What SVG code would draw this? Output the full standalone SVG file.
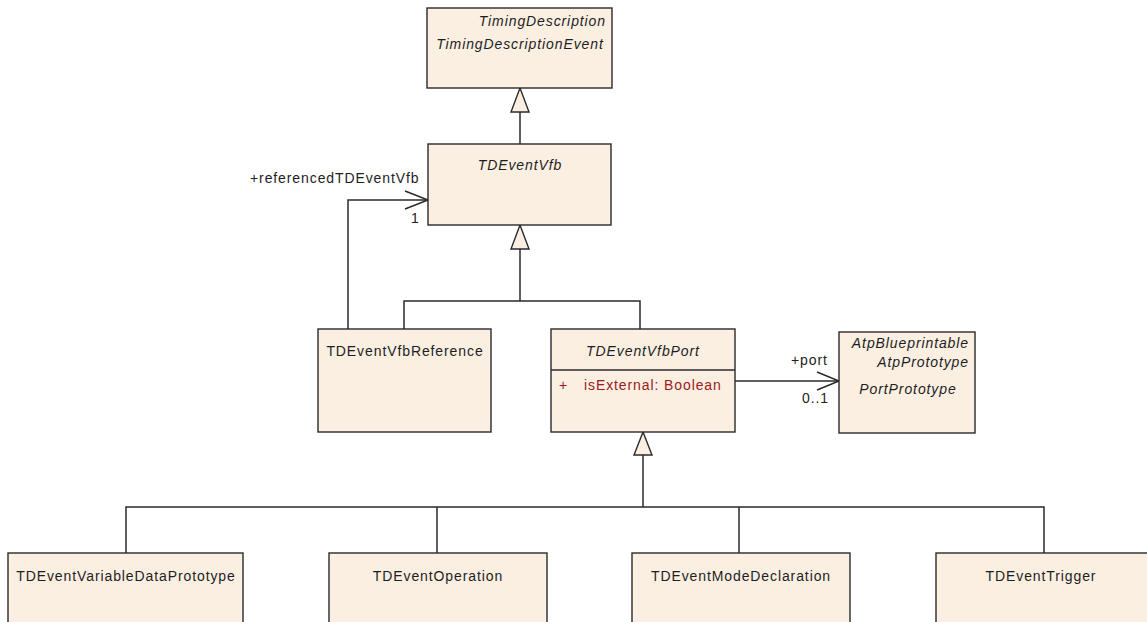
<svg xmlns="http://www.w3.org/2000/svg" width="1147" height="622" viewBox="0 0 1147 622">
<style>
.box{fill:#FBEFE2;stroke:#2a2a2a;stroke-width:1.4}
.ln{fill:none;stroke:#2a2a2a;stroke-width:1.5}
.tri{fill:#FBEFE2;stroke:#2a2a2a;stroke-width:1.4}
text{font-family:"Liberation Sans",Arial,sans-serif;font-size:14px;letter-spacing:0.9px;fill:#1e1e1e}
.it{font-style:italic}
.c{text-anchor:middle}
.e{text-anchor:end}
.attr{fill:#9C1A1A}
</style>
<rect width="1147" height="622" fill="#ffffff"/>
<g id="connectors">
<line class="ln" x1="520" y1="112" x2="520" y2="144"/>
<polygon class="tri" points="520,88 511,112 529,112"/>
<polyline class="ln" points="520,249 520,301"/>
<polyline class="ln" points="404,329 404,301 640,301 640,329"/>
<polygon class="tri" points="520,225 511,249 529,249"/>
<polyline class="ln" points="348,329 348,200 428,200"/>
<polyline class="ln" points="405,191 428,200 405,209"/>
<text x="250" y="183">+referencedTDEventVfb</text>
<text x="411" y="223">1</text>
<line class="ln" x1="735" y1="381" x2="839" y2="381"/>
<polyline class="ln" points="817,372 839,381 817,390"/>
<text x="791" y="365">+port</text>
<text x="802" y="403">0..1</text>
<line class="ln" x1="643" y1="455" x2="643" y2="507"/>
<polyline class="ln" points="126,553 126,507 1044,507 1044,553"/>
<line class="ln" x1="437" y1="507" x2="437" y2="553"/>
<line class="ln" x1="739" y1="507" x2="739" y2="553"/>
<polygon class="tri" points="643,432 634,455 652,455"/>
</g>
<g id="TimingDescriptionEvent">
<rect class="box" x="427" y="8" width="185" height="80"/>
<text class="it e" x="606" y="26">TimingDescription</text>
<text class="it c" x="520" y="49">TimingDescriptionEvent</text>
</g>
<g id="TDEventVfb">
<rect class="box" x="428" y="144" width="183" height="81"/>
<text class="it c" x="520" y="170">TDEventVfb</text>
</g>
<g id="TDEventVfbReference">
<rect class="box" x="318" y="329" width="173" height="103"/>
<text class="c" x="405" y="356">TDEventVfbReference</text>
</g>
<g id="TDEventVfbPort">
<rect class="box" x="551" y="329" width="184" height="103"/>
<text class="it c" x="643" y="356">TDEventVfbPort</text>
<line class="ln" x1="551" y1="370" x2="735" y2="370"/>
<text class="attr" x="559" y="390">+</text>
<text class="attr" x="584" y="390">isExternal: Boolean</text>
</g>
<g id="PortPrototype">
<rect class="box" x="839" y="332" width="136" height="101"/>
<text class="it e" x="969" y="348">AtpBlueprintable</text>
<text class="it e" x="969" y="367">AtpPrototype</text>
<text class="it c" x="908" y="394">PortPrototype</text>
</g>
<g id="TDEventVariableDataPrototype">
<rect class="box" x="8" y="553" width="235" height="80"/>
<text class="c" x="126" y="581">TDEventVariableDataPrototype</text>
</g>
<g id="TDEventOperation">
<rect class="box" x="329" y="553" width="218" height="80"/>
<text class="c" x="438" y="581">TDEventOperation</text>
</g>
<g id="TDEventModeDeclaration">
<rect class="box" x="632" y="553" width="218" height="80"/>
<text class="c" x="741" y="581">TDEventModeDeclaration</text>
</g>
<g id="TDEventTrigger">
<rect class="box" x="936" y="553" width="214" height="80"/>
<text class="c" x="1041" y="581">TDEventTrigger</text>
</g>
</svg>
